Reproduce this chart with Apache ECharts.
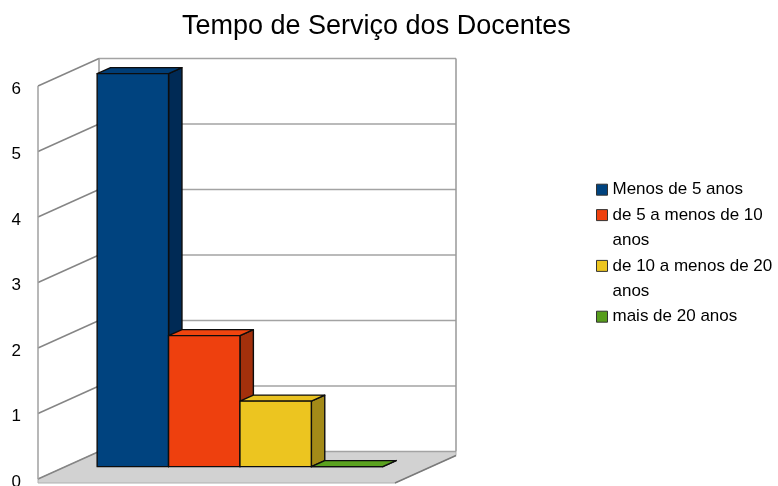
<!DOCTYPE html>
<html>
<head>
<meta charset="utf-8">
<title>Tempo de Serviço dos Docentes</title>
<script src="https://cdn.jsdelivr.net/npm/echarts@6/dist/echarts.min.js"></script>
<style>
  html, body { margin: 0; padding: 0; background: #fff; }
  #chart { width: 778px; height: 486px; }
</style>
</head>
<body>
<div id="chart"></div>
<script>
// dados do gráfico
const categorias = [''];
const seriesNomes = [
  'Menos de 5 anos',
  'de 5 a menos de 10 anos',
  'de 10 a menos de 20 anos',
  'mais de 20 anos'
];
// texto da legenda como aparece (quebras de linha; a linha vazia mantém o ícone na 1a linha)
const legendaTextos = [
  'Menos de 5 anos',
  '\nde 5 a menos de 10\nanos',
  '\nde 10 a menos de 20\nanos',
  '\nmais de 20 anos\n'
];
const seriesValores = [6, 2, 1, 0];
const yTicks = [0, 1, 2, 3, 4, 5, 6];

// cores das faces (frente, lado, topo)
const coresFrente = ['#00437f', '#ee400e', '#ecc520', '#579d1c'];
const coresLado = ['#002a55', '#a3300c', '#a38a18', '#3b6b13'];
const coresTopo = ['#003d76', '#f0450f', '#e9c222', '#5aa21f'];

// perspectiva "3D": deslocamento da profundidade total (px)
const PROF = [61, -27.5];
const FRENTE_BARRA = 0.45; // fração da profundidade onde fica a frente das barras
const FUNDO_BARRA = 0.67;
const LARG_BARRA = 0.2; // largura de cada barra em relação à categoria
const DESLOC_X = -4;

/**
 * paredes, chão e linhas de grade
 */
function renderParedes(params, api) {
  const base = api.coord([0, 0]);
  const band = api.size([1, 0])[0];
  const xEsq = base[0] - band / 2;
  const xDir = base[0] + band / 2;
  const y0 = base[1];
  const yTopo = api.coord([0, yTicks[yTicks.length - 1]])[1];
  const dx = PROF[0];
  const dy = PROF[1];
  const linhaLado = { stroke: '#858585', lineWidth: 1.5 };
  const linhaFundo = { stroke: '#a3a3a3', lineWidth: 1.5 };
  const filhos = [];

  // chão (com espessura)
  filhos.push({
    type: 'polygon',
    shape: {
      points: [
        [xEsq, y0], [xEsq, y0 + 4], [xDir, y0 + 4], [xDir + dx, y0 + dy + 4],
        [xDir + dx, y0 + dy], [xEsq + dx, y0 + dy]
      ]
    },
    style: { fill: '#d2d2d2', stroke: '#b0b0b0', lineWidth: 1 }
  });
  filhos.push({
    type: 'line',
    shape: { x1: xDir, y1: y0 + 4, x2: xDir + dx, y2: y0 + dy + 4 },
    style: { stroke: '#7a7a7a', lineWidth: 1.5 }
  });

  yTicks.forEach(function (v) {
    const y = api.coord([0, v])[1];
    // parede lateral
    filhos.push({
      type: 'line',
      shape: { x1: xEsq, y1: y, x2: xEsq + dx, y2: y + dy },
      style: linhaLado
    });
    // parede do fundo
    filhos.push({
      type: 'line',
      shape: { x1: xEsq + dx, y1: y + dy, x2: xDir + dx, y2: y + dy },
      style: linhaFundo
    });
  });

  // arestas verticais
  filhos.push({
    type: 'line',
    shape: { x1: xEsq, y1: yTopo, x2: xEsq, y2: y0 },
    style: { stroke: '#a0a0a0', lineWidth: 1.5 }
  });
  filhos.push({
    type: 'line',
    shape: { x1: xEsq + dx, y1: yTopo + dy, x2: xEsq + dx, y2: y0 + dy },
    style: { stroke: '#999', lineWidth: 1.5 }
  });
  filhos.push({
    type: 'line',
    shape: { x1: xDir + dx, y1: yTopo + dy, x2: xDir + dx, y2: y0 + dy },
    style: { stroke: '#999', lineWidth: 1.5 }
  });

  return { type: 'group', children: filhos };
}

/**
 * barra 3D (frente, lado e topo)
 */
function renderBarra(params, api) {
  const i = api.value(2);
  const p0 = api.coord([api.value(0), 0]);
  const p1 = api.coord([api.value(0), api.value(1)]);
  const band = api.size([1, 0])[0];
  const w = band * LARG_BARRA;
  const xl = p0[0] - 2 * w + i * w + DESLOC_X + PROF[0] * FRENTE_BARRA;
  const xr = xl + w;
  const yb = p0[1] + PROF[1] * FRENTE_BARRA;
  const yt = p1[1] + PROF[1] * FRENTE_BARRA;
  const dx = PROF[0] * (FUNDO_BARRA - FRENTE_BARRA);
  const dy = PROF[1] * (FUNDO_BARRA - FRENTE_BARRA);
  const borda = { stroke: '#0d0d0d', lineWidth: 1.4, lineJoin: 'round' };

  return {
    type: 'group',
    children: [
      {
        type: 'polygon',
        shape: { points: [[xr, yb], [xr + dx, yb + dy], [xr + dx, yt + dy], [xr, yt]] },
        style: Object.assign({ fill: coresLado[i] }, borda)
      },
      {
        type: 'polygon',
        shape: { points: [[xl, yt], [xr, yt], [xr + dx, yt + dy], [xl + dx, yt + dy]] },
        style: Object.assign({ fill: coresTopo[i] }, borda)
      },
      {
        type: 'rect',
        shape: { x: xl, y: yt, width: w, height: yb - yt },
        style: Object.assign({ fill: coresFrente[i] }, borda)
      }
    ]
  };
}

let myChart = echarts.init(document.getElementById('chart'));

let series = [
  {
    type: 'custom',
    name: 'paredes',
    renderItem: renderParedes,
    data: [[0, 0]],
    clip: false,
    silent: true,
    z: 1
  }
];
seriesNomes.forEach(function (nome, i) {
  series.push({
    type: 'custom',
    name: nome,
    renderItem: renderBarra,
    dimensions: ['x', 'y', 'i'],
    encode: { x: 0, y: 1 },
    data: [[0, seriesValores[i], i]],
    itemStyle: { color: coresFrente[i] },
    clip: false,
    z: 2 + i
  });
});

let option = {
  animation: false,
  backgroundColor: '#fff',
  title: {
    text: 'Tempo de Serviço dos Docentes',
    left: 182,
    top: 13,
    padding: 0,
    textStyle: {
      fontFamily: 'Liberation Sans',
      fontSize: 27,
      fontWeight: 'normal',
      color: '#000'
    }
  },
  legend: {
    orient: 'vertical',
    left: 596,
    top: 177,
    padding: 0,
    itemWidth: 11,
    itemHeight: 11,
    itemGap: -25.4,
    selectedMode: false,
    icon: 'rect',
    formatter: function (nome) {
      return legendaTextos[seriesNomes.indexOf(nome)];
    },
    textStyle: {
      fontFamily: 'Liberation Sans',
      fontSize: 17,
      lineHeight: 25.4,
      color: '#000'
    },
    data: seriesNomes.map(function (nome, i) {
      return {
        name: nome,
        itemStyle: { color: coresFrente[i], borderColor: '#333', borderWidth: 1 }
      };
    })
  },
  grid: {
    left: 38,
    right: 383,
    top: 86,
    bottom: 7,
    outerBoundsMode: 'none'
  },
  xAxis: {
    type: 'category',
    data: categorias,
    axisLine: { show: false },
    axisTick: { show: false },
    axisLabel: { show: false },
    splitLine: { show: false }
  },
  yAxis: {
    type: 'value',
    min: 0,
    max: 6,
    interval: 1,
    axisLine: { show: false },
    axisTick: { show: false },
    splitLine: { show: false },
    axisLabel: {
      margin: 17,
      verticalAlign: 'top',
      lineHeight: 6,
      fontFamily: 'Liberation Sans',
      fontSize: 17,
      color: '#000'
    }
  },
  series: series
};

option && myChart.setOption(option);
</script>
</body>
</html>
